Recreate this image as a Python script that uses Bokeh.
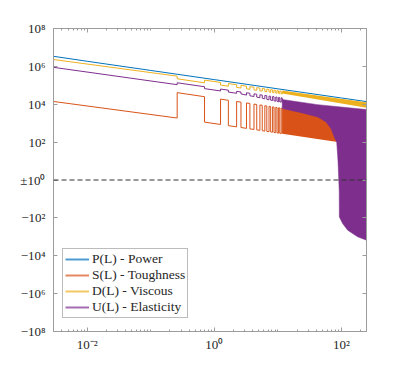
import numpy as np
from bokeh.plotting import figure
from bokeh.models import (FixedTicker, LogAxis, LinearAxis, Legend, LegendItem,
                          Span, CustomJSTickFormatter)
from bokeh.embed import file_html
from bokeh.resources import INLINE

# ---------------- data ----------------
x_lo, x_hi = 0.00295, 247.0

# P(L) - Power
P_L = [0.00295, 0.01, 0.1, 1, 10, 100, 247]
P_val = [3.4e6, 1.86e6, 6.1e5, 2.0e5, 6.5e4, 2.14e4, 1.38e4]

# edges of the high-toughness layers (start, end, start, end, ...)
edges = [0.26, 0.70, 1.25, 1.66, 2.24, 2.62, 3.2, 3.62, 4.2, 4.64, 5.2, 5.66,
         6.22, 6.68, 7.24, 7.68, 8.24, 8.68, 9.24, 9.68, 10.24, 10.68, 11.24, 11.68]

# S(L) - Toughness
S_start = 1.4e4
S_lo = [1870, 1140, 854, 741, 638, 590, 534, 502, 466, 443, 419, 401,
        383, 370, 355, 345, 333, 324, 314, 307, 298, 292, 285, 279]
S_hi = [41000, 25000, 18700, 16200, 14000, 12900, 11700, 11000, 10200, 9700, 9170, 8790,
        8380, 8090, 7770, 7540, 7280, 7090, 6880, 6720, 6530, 6400, 6230, 6120]

# D(L) - Viscous
D_start = 2.3e6
D_lo = [3.05e5, 1.88e5, 1.42e5, 1.24e5, 1.07e5, 9.93e4, 9.02e4, 8.49e4, 7.91e4, 7.53e4,
        7.13e4, 6.84e4, 6.53e4, 6.31e4, 6.07e4, 5.90e4, 5.70e4, 5.56e4, 5.40e4, 5.27e4,
        5.13e4, 5.02e4, 4.90e4, 4.81e4]
D_hi = [2.21e5, 1.36e5, 1.03e5, 8.97e4, 7.76e4, 7.19e4, 6.53e4, 6.15e4, 5.73e4, 5.46e4,
        5.16e4, 4.95e4, 4.73e4, 4.57e4, 4.40e4, 4.28e4, 4.13e4, 4.03e4, 3.91e4, 3.82e4,
        3.72e4, 3.64e4, 3.55e4, 3.48e4]

# U(L) - Elasticity
U_start = 8.9e5
U_lo = [1.08e5, 6.68e4, 5.05e4, 4.40e4, 3.80e4, 3.52e4, 3.05e4, 2.81e4, 2.56e4, 2.38e4,
        2.20e4, 2.07e4, 1.93e4, 1.82e4, 1.71e4, 1.63e4, 1.57e4, 1.50e4, 1.45e4, 1.39e4,
        1.35e4, 1.32e4, 1.29e4, 1.26e4]
U_hi = [1.36e5, 8.41e4, 6.35e4, 5.53e4, 4.79e4, 4.44e4, 4.03e4, 3.79e4, 3.53e4, 3.37e4,
        3.18e4, 3.05e4, 2.92e4, 2.82e4, 2.71e4, 2.64e4, 2.55e4, 2.48e4, 2.41e4, 2.36e4,
        2.29e4, 2.24e4, 2.19e4, 2.15e4]

# dense (fast oscillation) region: envelopes
band_L = [11.68, 50, 247]
S_band_lo = [279, 135, 60.8]
S_band_hi = [6120, 2960, 1330]
D_band_top = [5.40e4, 2.67e4, 1.26e4]
D_band_bot = [3.65e4, 1.61e4, 6.6e3]
U_top_L = [11.68, 42, 247]
U_top = [1.78e4, 9.55e3, 5.25e3]
U_bot_L = [11.68, 23.2, 42.4, 57.1, 68.4, 77.1, 84, 88, 90.5, 92, 92.4, 104, 125, 179, 247]
U_bot = [5.9e3, 3.6e3, 2.1e3, 1.15e3, 513, 186, 100, 10, 0, -4, -89, -200, -447, -1000, -1510]

labels = ["P(L) - Power", "S(L) - Toughness", "D(L) - Viscous", "U(L) - Elasticity"]
colors = ["#0072BD", "#D95319", "#EDB120", "#7E2F8E"]

x_major = [0.01, 1, 100]
x_tick_labels = ["10\u207b\u00b2", "10\u2070", "10\u00b2"]
y_ticks = [-8, -6, -4, -2, 0, 2, 4, 6, 8]
y_tick_labels = ["\u221210\u2078", "\u221210\u2076", "\u221210\u2074", "\u221210\u00b2",
                 "\u00b110\u2070", "10\u00b2", "10\u2074", "10\u2076", "10\u2078"]


# ---------------- helpers ----------------
def slog(v):
    v = np.asarray(v, dtype=float)
    return np.sign(v) * np.log10(np.maximum(np.abs(v), 1.0))


def steps(start, lo, hi):
    xs, ys = [x_lo], [start]
    for i in range(0, len(edges), 2):
        a, b = edges[i], edges[i + 1]
        xs += [a, a, b, b]
        ys += [lo[i], hi[i], hi[i + 1], lo[i + 1]]
    return xs, slog(ys)


AX = "#9c9c9c"
TXT = "#262626"
FONT = "Liberation Serif"

p = figure(width=405, height=373, x_axis_type="log", x_range=(x_lo, x_hi), y_range=(-8, 8),
           output_backend="svg", toolbar_location=None,
           min_border_left=53, min_border_right=39, min_border_top=28, min_border_bottom=42)
p.grid.visible = False
p.outline_line_color = AX
p.outline_line_width = 1

# curves
p.line(P_L, slog(P_val), color=colors[0], line_width=1)

sx, sy = steps(S_start, S_lo, S_hi)
p.line(sx, sy, color=colors[1], line_width=1)
p.varea(x=band_L, y1=slog(S_band_lo), y2=slog(S_band_hi), fill_color=colors[1])

dx, dy = steps(D_start, D_lo, D_hi)
p.line(dx, dy, color=colors[2], line_width=1)
p.varea(x=band_L, y1=slog(D_band_bot), y2=slog(D_band_top), fill_color=colors[2])

ux, uy = steps(U_start, U_lo, U_hi)
p.line(ux, uy, color=colors[3], line_width=1)
p.patch(list(U_top_L) + list(U_bot_L[::-1]),
        list(slog(U_top)) + list(slog(U_bot)[::-1]),
        fill_color=colors[3], line_color=colors[3], line_width=0.5)

p.add_layout(Span(location=0, dimension="width", line_color="#333333",
                  line_dash="5 3", line_width=1.2))

# legend (legend-only renderers holding a single NaN point, so nothing is drawn in the plot)
items = []
for lab, col in zip(labels, colors):
    r = p.line([np.nan], [np.nan], color=col, line_width=2, line_alpha=0.7)
    items.append(LegendItem(label=lab, renderers=[r]))
leg = Legend(items=items, location=(9, 13), glyph_width=24, glyph_height=14,
             label_height=14, spacing=0, padding=2, margin=0, label_standoff=3,
             label_text_font=FONT, label_text_font_size="13.5px", label_text_color=TXT,
             border_line_color="#7a7a7a", border_line_width=1, background_fill_alpha=1)
p.add_layout(leg)

# axes
xt = FixedTicker(ticks=x_major,
                 minor_ticks=[m * 10.0 ** k for k in range(-3, 3) for m in range(1, 10)
                              if m * 10.0 ** k not in x_major])
yt = FixedTicker(ticks=y_ticks, minor_ticks=[])

def style(ax):
    ax.axis_line_color = AX
    ax.major_tick_line_color = AX
    ax.minor_tick_line_color = AX
    ax.major_tick_in = 4
    ax.major_tick_out = 0
    ax.minor_tick_in = 2
    ax.minor_tick_out = 0
    ax.major_label_text_font = FONT
    ax.major_label_text_font_size = "13px"
    ax.major_label_text_color = TXT

xa = p.xaxis[0]
xa.ticker = xt
xa.major_label_overrides = dict(zip(x_major, x_tick_labels))
style(xa)
xa.major_label_standoff = 5

ya = p.yaxis[0]
ya.ticker = yt
ya.major_label_overrides = dict(zip(y_ticks, y_tick_labels))
style(ya)
ya.major_label_standoff = 8

blank = CustomJSTickFormatter(code="return ''")
top = LogAxis(ticker=xt, formatter=blank)
style(top)
p.add_layout(top, "above")
right = LinearAxis(ticker=yt, formatter=blank)
style(right)
p.add_layout(right, "right")

open("out.html", "w").write(file_html(p, INLINE))
